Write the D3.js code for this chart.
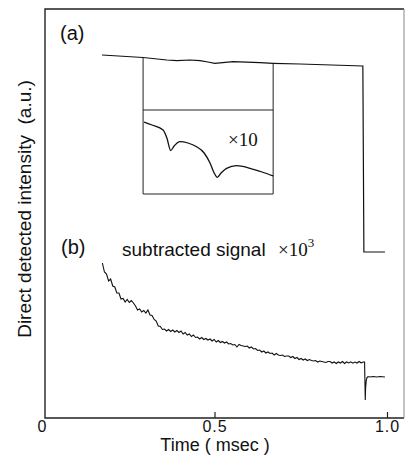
<!DOCTYPE html>
<html><head><meta charset="utf-8">
<script src="https://cdn.jsdelivr.net/npm/d3@7"></script>
<style>body{margin:0;background:#fff}</style>
</head><body><svg id="c" width="406" height="473"></svg>
<script>
// ---- data ----
const xTicks = [0, 0.5, 1.0];
const xTickLabels = ["0", "0.5", "1.0"];

// trace (a): direct detected intensity
const timeA = [0.174,0.293,0.362,0.391,0.429,0.458,0.481,0.501,0.554,0.632,0.670,0.748,0.930,0.933,0.994];
const valueA = [36.3,36.05,35.8,35.73,35.8,35.73,35.6,35.47,35.63,35.53,35.47,35.4,35.2,16.6,16.6];

// inset (x10 magnification of trace (a))
const insetEdges = [0.293, 0.670];
const insetLevels = [30.8, 22.4];
const insetTime = [0.296,0.319,0.351,0.362,0.373,0.383,0.400,0.423,0.448,0.470,0.487,0.499,0.508,0.519,0.535,0.564,0.603,0.638,0.670];
const insetValue = [29.6,29.3,28.8,28.0,26.75,27.2,27.63,27.5,27.13,26.5,25.5,24.5,24.07,24.5,24.97,25.23,24.97,24.6,24.2];

// trace (b): subtracted signal x10^3
const timeB = [0.175,0.181,0.187,0.193,0.199,0.205,0.211,0.217,0.223,0.229,0.235,0.241,0.247,0.253,0.259,0.265,0.271,0.277,0.283,0.289,0.295,0.301,0.307,0.313,0.319,0.325,0.331,0.337,0.343,0.349,0.355,0.361,0.367,0.373,0.379,0.385,0.391,0.397,0.403,0.409,0.415,0.421,0.427,0.433,0.439,0.445,0.451,0.457,0.463,0.469,0.475,0.481,0.487,0.493,0.499,0.505,0.511,0.517,0.523,0.529,0.535,0.541,0.547,0.553,0.559,0.565,0.571,0.577,0.583,0.589,0.595,0.601,0.607,0.613,0.619,0.625,0.631,0.637,0.643,0.649,0.655,0.661,0.667,0.673,0.679,0.685,0.691,0.697,0.703,0.709,0.715,0.721,0.727,0.733,0.739,0.745,0.751,0.757,0.763,0.769,0.775,0.781,0.787,0.793,0.799,0.805,0.811,0.817,0.823,0.829,0.835,0.841,0.847,0.853,0.859,0.865,0.871,0.877,0.883,0.889,0.895,0.901,0.907,0.913,0.919,0.925,0.931,
  0.935,0.937,0.938,0.940,0.942,0.945,0.950,0.960,0.970,0.980,0.994];
const valueB = [15.5,14.6,14.4,13.7,13.9,13.2,13.1,12.5,12.5,11.9,
  11.95,11.6,11.85,11.55,11.75,11.5,11.2,10.8,10.9,10.6,
  10.75,10.5,10.8,10.3,10.25,9.85,9.7,9.2,9.15,8.85,
  8.9,8.7,8.85,8.65,8.8,8.6,8.75,8.55,8.7,8.4,
  8.55,8.3,8.4,8.15,8.3,8.05,8.1,7.9,8.05,7.85,
  7.95,7.8,7.9,7.7,7.85,7.6,7.75,7.55,7.65,7.5,
  7.6,7.4,7.45,7.3,7.35,7.1,7.35,7.25,7.2,7.15,
  7.2,7.0,7.1,6.9,6.95,6.75,6.8,6.6,6.7,6.5,
  6.6,6.45,6.5,6.3,6.45,6.3,6.25,6.3,6.15,6.2,
  6.2,6.05,6.15,5.95,6.05,5.85,5.95,5.8,5.9,5.75,
  5.85,5.75,5.7,5.75,5.6,5.7,5.65,5.6,5.55,5.65,
  5.65,5.5,5.6,5.45,5.6,5.5,5.65,5.45,5.6,5.5,
  5.62,5.48,5.6,5.5,5.65,5.52,5.6,
  5.6,1.8,3.0,3.8,4.05,4.15,4.1,4.15,4.1,4.15,4.1];

// ---- layout ----
const frame = {left: 45, right: 404, top: 9, bottom: 418};
const svg = d3.select("#c");
const x = d3.scaleLinear().domain([0, 1]).range([42, 387]);
const y = d3.scaleLinear().domain([0, 40.9]).range([frame.bottom, frame.top]);
const sans = "'Liberation Sans', Arial, Helvetica, sans-serif";
const serif = "'Liberation Serif', 'Times New Roman', serif";
const ink = "#111";

// frame
svg.append("path")
  .attr("d", `M${frame.right},${frame.bottom}H${frame.left}V${frame.top}H${frame.right}`)
  .attr("fill", "none").attr("stroke", "#222").attr("stroke-width", 1.4);
svg.append("line")
  .attr("x1", frame.right).attr("x2", frame.right)
  .attr("y1", frame.top).attr("y2", frame.bottom)
  .attr("stroke", "#888").attr("stroke-width", 1);

// x axis ticks (inward)
const axis = d3.axisBottom(x).tickValues(xTicks).tickSize(-6)
  .tickFormat((d, i) => xTickLabels[i]).tickPadding(3);
const gx = svg.append("g").attr("transform", `translate(0,${frame.bottom})`).call(axis);
gx.select(".domain").remove();
gx.selectAll(".tick line").attr("stroke", "#222").attr("stroke-width", 1.2)
  .filter(d => d === 0).remove();
gx.selectAll(".tick text").attr("font-family", sans).attr("font-size", 16)
  .attr("letter-spacing", 1).attr("fill", ink);

// axis titles
svg.append("text").attr("x", 215).attr("y", 451).attr("text-anchor", "middle")
  .attr("font-family", sans).attr("font-size", 18).attr("fill", ink)
  .style("white-space", "pre").text("Time ( msec )");
svg.append("text").attr("transform", "translate(31,209) rotate(-90)")
  .attr("text-anchor", "middle").attr("font-family", sans).attr("font-size", 19)
  .attr("fill", ink).style("white-space", "pre")
  .text("Direct detected intensity  (a.u.)");

const line = d3.line().x((d) => x(d[0])).y((d) => y(d[1]));

// trace (a)
svg.append("path").datum(timeA.map((t, i) => [t, valueA[i]]))
  .attr("d", line).attr("fill", "none").attr("stroke", ink).attr("stroke-width", 1.2);

// inset box
const topAt = (t) => valueA[timeA.indexOf(t)];
insetEdges.forEach(t => {
  svg.append("line").attr("x1", x(t)).attr("x2", x(t))
    .attr("y1", y(topAt(t))).attr("y2", y(insetLevels[1]))
    .attr("stroke", "#222").attr("stroke-width", 1);
});
insetLevels.forEach(v => {
  svg.append("line").attr("x1", x(insetEdges[0])).attr("x2", x(insetEdges[1]))
    .attr("y1", y(v)).attr("y2", y(v)).attr("stroke", "#222").attr("stroke-width", 1);
});
svg.append("path").datum(insetTime.map((t, i) => [t, insetValue[i]]))
  .attr("d", line.curve(d3.curveMonotoneX)).attr("fill", "none")
  .attr("stroke", ink).attr("stroke-width", 1.3);
line.curve(d3.curveLinear);
svg.append("text").attr("x", 228).attr("y", 146).attr("font-family", serif)
  .attr("font-size", 19).attr("fill", ink).text("×10");

// trace (b)
svg.append("path").datum(timeB.map((t, i) => [t, valueB[i]]))
  .attr("d", line).attr("fill", "none").attr("stroke", ink).attr("stroke-width", 1.1);

// panel labels
svg.append("text").attr("x", 60).attr("y", 40).attr("font-family", sans)
  .attr("font-size", 20).attr("fill", ink).text("(a)");
svg.append("text").attr("x", 61).attr("y", 254).attr("font-family", sans)
  .attr("font-size", 20).attr("fill", ink).text("(b)");
svg.append("text").attr("x", 122).attr("y", 256).attr("font-family", sans)
  .attr("font-size", 19).attr("fill", ink).text("subtracted signal");
const mag = svg.append("text").attr("x", 278).attr("y", 256).attr("font-family", serif)
  .attr("font-size", 19).attr("fill", ink);
mag.append("tspan").text("×10");
mag.append("tspan").attr("dy", -9).attr("font-size", 13).text("3");
</script></body></html>
